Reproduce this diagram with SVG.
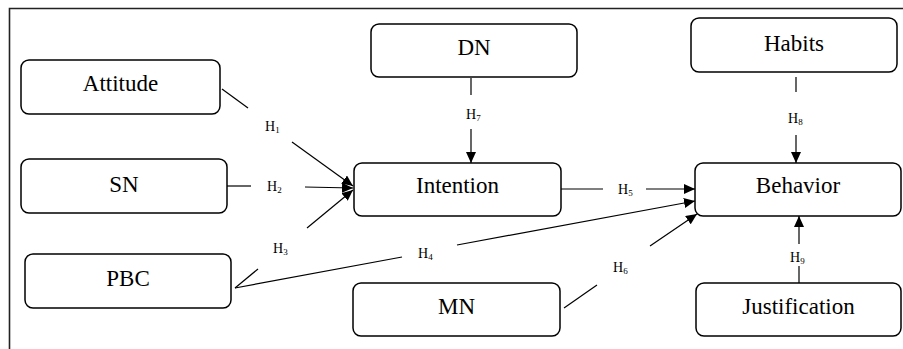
<svg xmlns="http://www.w3.org/2000/svg" width="903" height="349" viewBox="0 0 903 349">
  <style>
    .box { fill: #fff; stroke: #000; stroke-width: 1.5; }
    .lbl { font-size: 23px; fill: #000; text-anchor: middle; }
    .h { font-size: 14px; fill: #000; }
    .sub { font-size: 9px; }
    .ln { stroke: #000; stroke-width: 1.2; fill: none; }
    .arr { stroke: #000; stroke-width: 1.2; fill: none; marker-end: url(#tip); }
  </style>
  <defs>
    <marker id="tip" markerUnits="userSpaceOnUse" markerWidth="12" markerHeight="10" refX="11" refY="5" orient="auto">
      <path d="M0,0 L11,5 L0,10 Z" fill="#000"/>
    </marker>
  </defs>

  <rect width="903" height="349" fill="#fff"/>

  <!-- frame -->
  <path d="M9.5,349 V8.5 H903" fill="none" stroke="#222" stroke-width="1.6"/>

  <g font-family="'Liberation Serif', 'DejaVu Serif', 'Times New Roman', serif">
  <!-- connectors -->
  <g id="connectors">
    <!-- H1 Attitude -> Intention -->
    <line class="ln" x1="222" y1="89" x2="248" y2="108"/>
    <line class="arr" x1="292" y1="142" x2="353" y2="186"/>
    <!-- H2 SN -> Intention -->
    <line class="ln" x1="227" y1="186" x2="251" y2="186"/>
    <line class="arr" x1="305" y1="187" x2="353" y2="188"/>
    <!-- H3 PBC -> Intention -->
    <line class="ln" x1="235" y1="288" x2="258" y2="269"/>
    <line class="arr" x1="307" y1="228" x2="353" y2="190"/>
    <!-- H4 PBC -> Behavior -->
    <line class="ln" x1="235" y1="288" x2="402" y2="257"/>
    <line class="arr" x1="457" y1="245" x2="695" y2="201"/>
    <!-- H5 Intention -> Behavior -->
    <line class="ln" x1="561" y1="189" x2="603" y2="189" stroke-width="2"/>
    <line class="arr" x1="646" y1="189" x2="695" y2="189"/>
    <!-- H6 MN -> Behavior -->
    <line class="ln" x1="564" y1="308" x2="597" y2="285"/>
    <line class="arr" x1="650" y1="246" x2="697" y2="214"/>
    <!-- H7 DN -> Intention -->
    <line class="ln" x1="471" y1="78" x2="471" y2="95"/>
    <line class="arr" x1="471" y1="129" x2="471" y2="163"/>
    <!-- H8 Habits -> Behavior -->
    <line class="ln" x1="796" y1="77" x2="796" y2="92"/>
    <line class="arr" x1="796" y1="135" x2="796" y2="163"/>
    <!-- H9 Justification -> Behavior -->
    <line class="ln" x1="799" y1="283" x2="799" y2="266"/>
    <line class="arr" x1="799" y1="244" x2="799" y2="216"/>

    <!-- hypothesis labels -->
    <text class="h" x="265" y="131">H<tspan class="sub" dy="2">1</tspan></text>
    <text class="h" x="267" y="191">H<tspan class="sub" dy="2">2</tspan></text>
    <text class="h" x="273" y="253">H<tspan class="sub" dy="2">3</tspan></text>
    <text class="h" x="418" y="258">H<tspan class="sub" dy="2">4</tspan></text>
    <text class="h" x="618" y="194">H<tspan class="sub" dy="2">5</tspan></text>
    <text class="h" x="613" y="272">H<tspan class="sub" dy="2">6</tspan></text>
    <text class="h" x="466" y="119">H<tspan class="sub" dy="2">7</tspan></text>
    <text class="h" x="788" y="123">H<tspan class="sub" dy="2">8</tspan></text>
    <text class="h" x="790" y="262">H<tspan class="sub" dy="2">9</tspan></text>
  </g>

  <!-- nodes -->
  <g id="attitude">
    <rect class="box" x="21" y="60" width="199" height="54" rx="8"/>
    <text class="lbl" x="120.5" y="91" font-size="21">Attitude</text>
  </g>
  <g id="sn">
    <rect class="box" x="21" y="159" width="206" height="54" rx="8"/>
    <text class="lbl" x="124" y="192">SN</text>
  </g>
  <g id="pbc">
    <rect class="box" x="25" y="254" width="206" height="54" rx="8"/>
    <text class="lbl" x="128" y="286">PBC</text>
  </g>
  <g id="dn">
    <rect class="box" x="371" y="24" width="206" height="53" rx="8"/>
    <text class="lbl" x="474" y="55">DN</text>
  </g>
  <g id="intention">
    <rect class="box" x="354" y="163" width="207" height="53" rx="8"/>
    <text class="lbl" x="457.5" y="193">Intention</text>
  </g>
  <g id="mn">
    <rect class="box" x="353" y="283" width="207" height="53" rx="8"/>
    <text class="lbl" x="456.5" y="314">MN</text>
  </g>
  <g id="habits">
    <rect class="box" x="691" y="18" width="206" height="54" rx="8"/>
    <text class="lbl" x="794" y="51">Habits</text>
  </g>
  <g id="behavior">
    <rect class="box" x="695" y="163" width="206" height="53" rx="8"/>
    <text class="lbl" x="798" y="193">Behavior</text>
  </g>
  <g id="justification">
    <rect class="box" x="696" y="283" width="205" height="53" rx="8"/>
    <text class="lbl" x="798.5" y="314">Justification</text>
  </g>
  </g>
</svg>
